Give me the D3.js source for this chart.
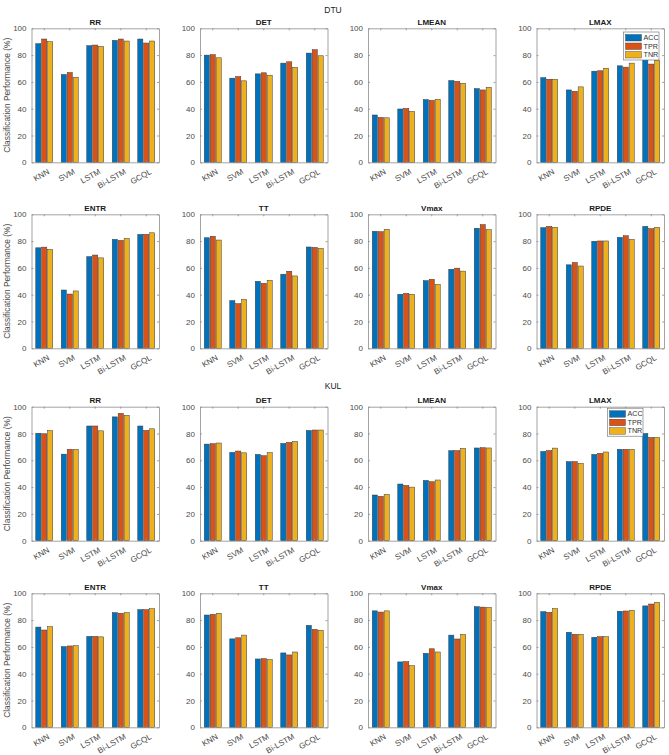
<!DOCTYPE html>
<html>
<head>
<meta charset="utf-8">
<script src="https://cdn.jsdelivr.net/npm/d3@7"></script>
<style>
  body { margin: 0; background: #fff; }
  text { font-family: "Liberation Sans", Arial, sans-serif; }
</style>
</head>
<body>
<div id="chart"></div>
<script>
var categories = ["KNN", "SVM", "LSTM", "Bi-LSTM", "GCQL"];
var series     = ["ACC", "TPR", "TNR"];
var colors     = ["#0072BD", "#D95319", "#EDB120"];
var features   = ["RR", "DET", "LMEAN", "LMAX", "ENTR", "TT", "Vmax", "RPDE"];
var datasets   = ["DTU", "KUL"];
var yTicks     = [0, 20, 40, 60, 80, 100];

// rows = ACC, TPR, TNR ; columns = KNN, SVM, LSTM, Bi-LSTM, GCQL
var dtuRR    = [[88.5, 65.5, 87.0, 91.0, 92.0], [92.0, 67.0, 87.5, 92.0, 89.0], [90.0, 63.5, 86.5, 90.5, 90.5]];
var dtuDET   = [[80.0, 62.8, 66.0, 74.0, 81.5], [80.3, 64.0, 66.8, 75.0, 84.0], [78.0, 60.8, 65.0, 70.8, 79.5]];
var dtuLMEAN = [[35.3, 39.8, 46.8, 61.0, 55.0], [33.5, 40.2, 46.2, 60.4, 54.0], [33.2, 38.0, 47.0, 59.0, 56.0]];
var dtuLMAX  = [[63.2, 54.0, 68.0, 72.0, 79.0], [62.0, 53.0, 68.3, 71.0, 73.3], [62.0, 56.3, 70.2, 74.0, 76.0]];
var dtuENTR  = [[75.0, 43.5, 68.4, 81.3, 85.0], [75.5, 40.5, 69.6, 80.5, 85.0], [73.8, 42.8, 67.5, 82.0, 86.2]];
var dtuTT    = [[82.5, 35.6, 50.0, 55.3, 75.6], [83.6, 33.3, 48.5, 57.5, 75.3], [80.8, 36.5, 50.8, 54.0, 74.5]];
var dtuVmax  = [[87.3, 40.3, 50.5, 59.0, 89.6], [87.0, 41.0, 51.5, 59.8, 92.3], [88.8, 40.3, 47.7, 57.6, 88.5]];
var dtuRPDE  = [[90.0, 62.3, 79.9, 82.8, 91.0], [91.0, 64.0, 80.1, 84.0, 89.3], [90.3, 61.4, 80.1, 81.3, 90.3]];

var kulRR    = [[80.2, 64.6, 85.6, 92.4, 85.6], [79.8, 68.2, 85.6, 95.0, 82.3], [82.2, 68.2, 82.0, 93.6, 83.5]];
var kulDET   = [[72.1, 65.9, 64.4, 72.6, 82.3], [72.4, 66.9, 63.4, 73.4, 82.6], [72.9, 65.6, 65.7, 74.1, 82.6]];
var kulLMEAN = [[34.1, 42.3, 45.0, 67.2, 69.2], [33.1, 41.2, 44.0, 67.2, 69.4], [34.5, 40.0, 45.3, 68.9, 69.2]];
var kulLMAX  = [[66.6, 59.0, 64.4, 68.2, 80.0], [67.3, 59.0, 65.2, 68.2, 77.0], [69.1, 57.7, 66.2, 68.2, 77.0]];
var kulENTR  = [[74.8, 60.2, 67.8, 85.6, 87.8], [72.6, 60.7, 67.8, 85.1, 87.8], [75.1, 60.9, 67.5, 85.6, 88.5]];
var kulTT    = [[83.8, 66.0, 51.0, 55.5, 76.1], [84.3, 66.8, 51.2, 54.0, 73.1], [85.1, 68.8, 50.5, 56.2, 72.4]];
var kulVmax  = [[86.9, 48.8, 55.2, 68.8, 90.0], [86.0, 49.0, 58.6, 65.9, 89.7], [86.9, 46.0, 56.2, 69.3, 89.5]];
var kulRPDE  = [[86.3, 70.9, 67.2, 86.6, 90.6], [85.8, 69.4, 67.6, 86.8, 92.0], [88.6, 69.4, 67.6, 87.3, 93.3]];

var panels = [
  [dtuRR, dtuDET, dtuLMEAN, dtuLMAX, dtuENTR, dtuTT, dtuVmax, dtuRPDE],
  [kulRR, kulDET, kulLMEAN, kulLMAX, kulENTR, kulTT, kulVmax, kulRPDE]
];

var W = 669, H = 755;
var colLeft = [31.5, 200, 368, 536.5];
var rowTop  = [28.3, 214.3, 406.7, 593.3];
var pw = 127.5, ph = 134;
var axisColor = "#8c8c8c", labelColor = "#4a4a4a";

var svg = d3.select("#chart").append("svg")
  .attr("width", W).attr("height", H)
  .attr("viewBox", "0 0 " + W + " " + H);

svg.append("text").attr("x", 333).attr("y", 12.5).attr("text-anchor", "middle")
  .attr("font-size", 8.5).attr("fill", "#222").text(datasets[0]);
svg.append("text").attr("x", 333).attr("y", 388.5).attr("text-anchor", "middle")
  .attr("font-size", 8.5).attr("fill", "#222").text(datasets[1]);

var x0 = d3.scaleBand().domain(categories).range([0, pw]).padding(0);
var bw = x0.bandwidth();
var x1 = d3.scaleBand().domain(series).range([bw * (0.5 - 0.333), bw * (0.5 + 0.333)]).paddingInner(0.14);
var y  = d3.scaleLinear().domain([0, 100]).range([ph, 0]);

panels.forEach(function(list, g) {
  list.forEach(function(vals, i) {
    var row = g * 2 + Math.floor(i / 4), col = i % 4;
    var p = svg.append("g").attr("transform", "translate(" + colLeft[col] + "," + rowTop[row] + ")");

    // bars
    series.forEach(function(s, si) {
      p.append("g").selectAll("rect").data(vals[si]).enter().append("rect")
        .attr("x", function(d, ci) { return x0(categories[ci]) + x1(s); })
        .attr("y", function(d) { return y(d); })
        .attr("width", x1.bandwidth())
        .attr("height", function(d) { return ph - y(d); })
        .attr("fill", colors[si])
        .attr("stroke", "#3a3a3a").attr("stroke-width", 0.5);
    });

    // axes (ticks inside, box on)
    var ax = p.append("g").attr("class", "axis");
    var yl = d3.axisLeft(y).tickValues(yTicks).tickSizeInner(-2).tickSizeOuter(0).tickPadding(5);
    var yr = d3.axisRight(y).tickValues(yTicks).tickSizeInner(-2).tickSizeOuter(0).tickFormat("");
    var xb = d3.axisBottom(x0).tickSizeInner(-2).tickSizeOuter(0).tickFormat("");
    var xt = d3.axisTop(x0).tickSizeInner(-2).tickSizeOuter(0).tickFormat("");
    ax.append("g").call(yl);
    ax.append("g").attr("transform", "translate(" + pw + ",0)").call(yr);
    ax.append("g").attr("transform", "translate(0," + ph + ")").call(xb);
    ax.append("g").call(xt);
    ax.selectAll("path.domain").attr("stroke", axisColor).attr("stroke-width", 0.8);
    ax.selectAll(".tick line").attr("stroke", axisColor).attr("stroke-width", 0.8);
    ax.selectAll(".tick text").attr("fill", labelColor).attr("font-size", 8)
      .attr("font-family", "'Liberation Sans', Arial, sans-serif");

    // rotated category labels
    p.append("g").selectAll("text").data(categories).enter().append("text")
      .attr("transform", function(d) {
        return "translate(" + (x0(d) + bw / 2 + 3) + "," + (ph + 6) + ") rotate(-30)";
      })
      .attr("text-anchor", "end").attr("dy", "0.7em")
      .attr("font-size", 8).attr("fill", labelColor)
      .text(function(d) { return d; });

    // title
    p.append("text").attr("x", pw / 2).attr("y", -3.5).attr("text-anchor", "middle")
      .attr("font-size", 8).attr("font-weight", "bold").attr("fill", "#1a1a1a")
      .text(features[i]);

    // y label on first column
    if (col === 0) {
      p.append("text").attr("transform", "rotate(-90)")
        .attr("x", -ph / 2).attr("y", -22).attr("text-anchor", "middle")
        .attr("font-size", 8.4).attr("fill", labelColor)
        .text("Classification Performance (%)");
    }

    // legend in LMAX panels
    if (features[i] === "LMAX") {
      var lx = g === 0 ? pw - 40.5 : pw - 56.5, ly = g === 0 ? 3.7 : 1.5;
      var lg = p.append("g").attr("transform", "translate(" + lx + "," + ly + ")");
      lg.append("rect").attr("width", 35.5).attr("height", 28)
        .attr("fill", "#fff").attr("stroke", "#6a6a6a").attr("stroke-width", 0.6);
      series.forEach(function(s, si) {
        lg.append("rect").attr("x", 2).attr("y", 2.5 + si * 8.5).attr("width", 16).attr("height", 6.5)
          .attr("fill", colors[si]).attr("stroke", "#3a3a3a").attr("stroke-width", 0.4);
        lg.append("text").attr("x", 20).attr("y", 8.3 + si * 8.5)
          .attr("font-size", 7.2).attr("fill", "#333").text(s);
      });
    }
  });
});
</script>
</body>
</html>
